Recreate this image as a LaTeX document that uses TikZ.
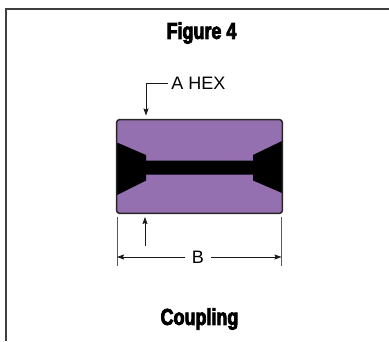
\documentclass[tikz,border=0pt]{standalone}
\usepackage{fontspec}
\setmainfont{Liberation Sans}
\newfontfamily\headfont[FakeStretch=0.78,FakeBold=3.5]{Liberation Sans Bold}
\usetikzlibrary{arrows.meta}

\begin{document}
\begin{tikzpicture}[x=1pt,y=-1pt,thick]
	% `hexbody' is used for the purple coupling.
	% `dim' is used for the leaders and the dimension lines.
	\tikzstyle{hexbody} = [fill=purple1,minimum width=165pt,minimum height=93pt,inner sep=0pt,rounded corners=3pt]
	\tikzstyle{outline} = [draw=black!85,line width=1.5pt,rounded corners=3pt]
	\tikzstyle{dim} = [line width=0.8pt,black!90,arrows={-Stealth[length=7pt,width=5pt,inset=1pt]}]
	\tikzstyle{witness} = [line width=0.8pt,black!65]
	\tikzstyle{frameline} = [line width=2pt,black!75]
	\tikzstyle{heading} = [font=\headfont\fontsize{23}{24}\selectfont,inner sep=0pt]
	\tikzstyle{callout} = [font=\fontsize{18}{20}\selectfont,inner sep=0pt]
	\definecolor{purple1}{HTML}{9470B0}
	\useasboundingbox (0,0) rectangle (389,341);
	%
	% Frame, open on the right and at the bottom.
	\coordinate (frame0) at (5.5,341);
	\coordinate (frame1) at (5.5,8.5);
	\coordinate (frame2) at (389,8.5);
	\draw[frameline] (frame0) -- (frame1) -- (frame2);
	%
	\node[heading] (title) at (201.5,33) {Figure 4};
	\node[heading] (caption) at (199.5,319) {Coupling};
	%
	% Coupling.
	\node[hexbody] (housing) at (199.5,166.5) {};
	\fill[black] (117,142.5) -- (146,155) -- (146,160.7) -- (253,160.7) -- (253,155) -- (282,141)
		-- (282,193) -- (253,180.5) -- (253,174.7) -- (146,174.7) -- (146,180.5) -- (117,195) -- cycle;
	\draw[outline] (housing.north west) rectangle (housing.south east);
	%
	% Callout for the hex size.
	\node[callout,anchor=west] (hex) at (171,83) {A HEX};
	\coordinate (hextop) at (146,115.5);
	\coordinate (hexlow) at (145,217);
	\coordinate (hexfoot) at (145,246);
	\draw[dim] ([xshift=-3.5pt]hex.west) -| (hextop);
	\draw[dim] (hexfoot) -- (hexlow);
	%
	% Dimension B.
	\node[callout,fill=white,minimum width=25pt] (width) at (198,257) {B};
	\coordinate (wit0) at (117,217);
	\coordinate (wit1) at (117,266);
	\coordinate (wit2) at (281.5,217);
	\coordinate (wit3) at (281.5,266);
	\draw[witness] (wit0) -- (wit1);
	\draw[witness] (wit2) -- (wit3);
	\draw[dim] (width) -- (wit1 |- width);
	\draw[dim] (width) -- (wit3 |- width);
%
\end{tikzpicture}
\end{document}
